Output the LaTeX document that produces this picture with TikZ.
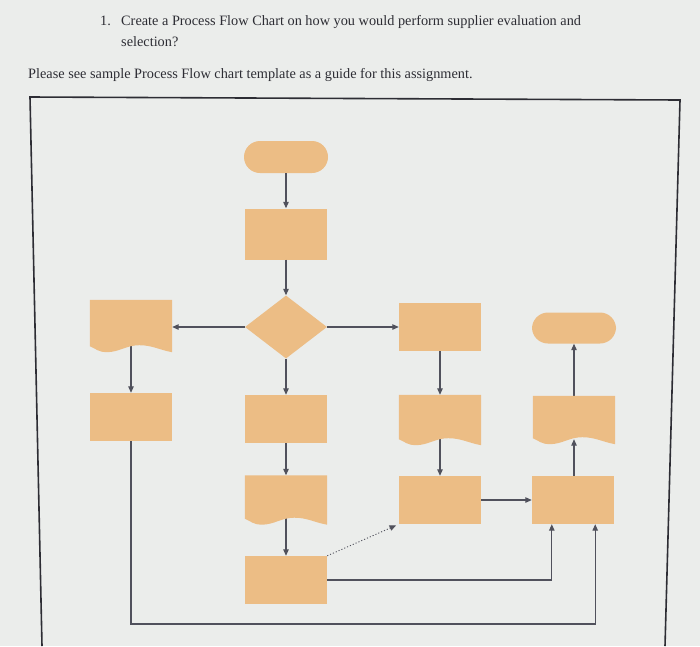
\documentclass[tikz,border=0pt]{standalone}
\usepackage{fontspec}
\setmainfont{Liberation Serif}
\usetikzlibrary{shapes.geometric,arrows.meta,calc}
\definecolor{boxtan}{RGB}{236,189,133}
\definecolor{linegray}{RGB}{80,81,92}
\definecolor{paper}{RGB}{235,237,235}
\definecolor{inkgray}{RGB}{45,45,52}
% fill of a document shape (wavy bottom) over an empty node
\newcommand{\wavydoc}[1]{%
  \fill [boxtan] (#1.north west) -- (#1.north east) -- (#1.south east)
    to[out=170,in=0] ($(#1.south west)!0.6!(#1.south east)+(0pt,7pt)$)
    to[out=180,in=0] ($(#1.south west)!0.2!(#1.south east)$)
    to[out=180,in=-25] ($(#1.south west)+(0pt,6pt)$) -- cycle;}

\begin{document}
\begin{tikzpicture}[x=1pt,y=-1pt]
        \tikzstyle{every node}+=[inner sep=0pt]
        \tikzstyle{txt}=[anchor=base west, text=inkgray, font=\fontsize{14.3}{17}\selectfont]
        \tikzstyle{boxnode}=[rectangle, fill=boxtan, minimum width=82pt, minimum height=48pt]
        \tikzstyle{docnode}=[rectangle, minimum width=82pt, minimum height=49pt]
        \tikzstyle{termnode}=[rectangle, rounded corners=16pt, fill=boxtan, minimum width=84pt, minimum height=32pt]
        \tikzstyle{flow}=[draw=linegray, line width=1.1pt, -{Triangle[length=6.5pt,width=5.5pt]}]
        \fill [paper] (0,0) rectangle (700,646);
        \useasboundingbox (0,0) rectangle (700,646);
        % heading
        \node [txt] (num) at (100,25) {1.};
        \node [txt] (task) at (121,25) {Create a Process Flow Chart on how you would perform supplier evaluation and};
        \node [txt] (task2) at (121,46) {selection?};
        \node [txt] (note) at (28,78) {Please see sample Process Flow chart template as a guide for this assignment.};
        % frame
        \draw [inkgray, line width=1.6pt] (42,646) -- (30,97) -- (680,100) -- (665,646);
        % shapes
        \node [termnode] (start) at (286,157) {};
        \node [boxnode, minimum height=51pt] (step) at (286,234) {};
        \node [diamond, fill=boxtan, minimum width=82pt, minimum height=63pt] (decide) at (286,327) {};
        \node [docnode, minimum height=52pt] (leftdoc) at (131,326) {};
        \node [boxnode] (leftbox) at (131,417) {};
        \node [boxnode] (midbox) at (286,419) {};
        \node [docnode] (middoc) at (286,500) {};
        \node [boxnode] (midlow) at (286,580) {};
        \node [boxnode] (rbox) at (440,327) {};
        \node [docnode, minimum height=50pt] (rdoc) at (440,420) {};
        \node [boxnode] (rlow) at (440,500) {};
        \node [termnode, minimum height=31pt] (endterm) at (574,328) {};
        \node [docnode, minimum height=48pt] (edoc) at (574,420) {};
        \node [boxnode] (ebox) at (573,500) {};
        \coordinate (floor) at (0,624);
        % connectors
        \draw [flow] (start) -- (step);
        \draw [flow] (step) -- (decide);
        \draw [flow] (decide) -- (midbox);
        \draw [flow] (midbox) -- (middoc);
        \draw [flow] (middoc.center) -- (midlow);
        \draw [flow] (decide) -- (leftdoc.east |- decide);
        \draw [flow] (leftdoc.center) -- (leftbox);
        \draw [flow] (decide) -- (rbox);
        \draw [flow] (rbox) -- (rdoc);
        \draw [flow] (rdoc.center) -- (rlow);
        \draw [flow] (rlow) -- (ebox);
        \draw [flow] (ebox.north -| edoc) -- ([yshift=5pt]edoc.south);
        \draw [flow] (edoc) -- (endterm);
        \draw [flow] (midlow) -| ([xshift=20pt]ebox.south west);
        \draw [flow] (leftbox) -- (leftbox |- floor) -| ([xshift=-19pt]ebox.south east);
        \draw [flow, dotted, line width=0.9pt, shorten >=3pt] (midlow.north east) -- (rlow.south west);
        % document fills
        \wavydoc{leftdoc}
        \wavydoc{middoc}
        \wavydoc{rdoc}
        \wavydoc{edoc}
\end{tikzpicture}
\end{document}
